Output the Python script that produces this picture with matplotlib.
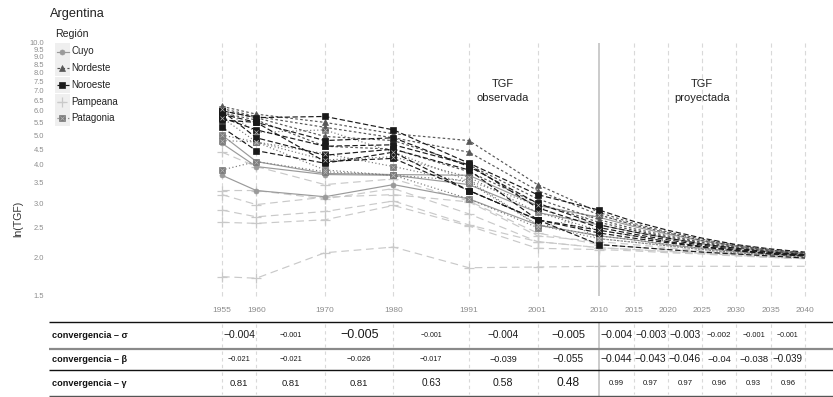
import matplotlib
matplotlib.use("Agg")
import matplotlib.pyplot as plt
from matplotlib.lines import Line2D
from matplotlib.patches import Rectangle
from matplotlib.ticker import FixedLocator, FixedFormatter, NullLocator

plt.rcParams['font.family'] = ['Liberation Sans', 'DejaVu Sans']

# ---------------- data ----------------
years = [1955, 1960, 1970, 1980, 1991, 2001, 2010, 2015, 2020, 2025, 2030, 2035, 2040]
year_labels = [str(y) for y in years]
n_obs = 7  # observed up to 2010

region_names = ["Cuyo", "Nordeste", "Noroeste", "Pampeana", "Patagonia"]

cuyo = {
    "San Luis": [5.0, 4.1, 3.75, 3.72, 3.7, 2.95, 2.7, 2.52, 2.38, 2.26, 2.17, 2.10, 2.06],
    "San Juan": [4.7, 3.95, 3.72, 3.7, 3.45, 2.8, 2.55, 2.42, 2.31, 2.21, 2.14, 2.08, 2.04],
    "Mendoza": [3.7, 3.3, 3.15, 3.45, 3.1, 2.55, 2.35, 2.28, 2.20, 2.14, 2.09, 2.05, 2.02],
}
nordeste = {
    "Misiones": [6.2, 5.85, 5.5, 5.05, 4.8, 3.45, 2.8, 2.58, 2.42, 2.29, 2.19, 2.12, 2.07],
    "Formosa": [6.1, 5.75, 5.3, 4.9, 4.4, 3.3, 2.75, 2.55, 2.40, 2.27, 2.18, 2.11, 2.06],
    "Chaco": [6.0, 5.7, 4.95, 4.8, 4.0, 3.1, 2.65, 2.48, 2.35, 2.24, 2.16, 2.10, 2.05],
    "Corrientes": [5.9, 5.6, 4.6, 4.5, 3.8, 3.0, 2.6, 2.45, 2.33, 2.23, 2.15, 2.09, 2.05],
}
noroeste = {
    "Santiago del Estero": [6.0, 5.7, 5.75, 5.2, 4.05, 3.2, 2.85, 2.62, 2.45, 2.31, 2.20, 2.13, 2.08],
    "Jujuy": [5.85, 5.5, 4.8, 4.9, 3.95, 3.0, 2.55, 2.42, 2.31, 2.21, 2.14, 2.08, 2.04],
    "Salta": [5.7, 5.2, 4.6, 4.65, 4.0, 2.9, 2.5, 2.38, 2.28, 2.19, 2.12, 2.07, 2.03],
    "Catamarca": [6.0, 4.9, 4.3, 4.5, 3.85, 2.65, 2.4, 2.31, 2.23, 2.16, 2.10, 2.05, 2.02],
    "La Rioja": [5.6, 5.5, 4.1, 4.2, 3.3, 2.65, 2.45, 2.35, 2.25, 2.17, 2.11, 2.06, 2.03],
    "Tucumán": [5.3, 4.45, 4.05, 4.4, 3.3, 2.65, 2.2, 2.16, 2.12, 2.08, 2.05, 2.02, 1.99],
}
pampeana = {
    "Córdoba": [4.4, 3.95, 3.45, 3.6, 3.05, 2.4, 2.2, 2.16, 2.12, 2.08, 2.05, 2.02, 1.99],
    "Santa Fe": [3.3, 3.3, 3.1, 3.35, 2.77, 2.25, 2.15, 2.12, 2.09, 2.06, 2.03, 2.00, 1.98],
    "Entre Ríos": [3.2, 2.97, 3.14, 3.2, 3.03, 2.35, 2.25, 2.20, 2.15, 2.10, 2.06, 2.03, 2.00],
    "La Pampa": [2.85, 2.71, 2.82, 3.05, 2.55, 2.25, 2.15, 2.12, 2.09, 2.06, 2.03, 2.00, 1.98],
    "Buenos Aires": [2.6, 2.58, 2.65, 2.95, 2.53, 2.14, 2.12, 2.10, 2.07, 2.05, 2.02, 2.00, 1.98],
    "CABA": [1.73, 1.71, 2.07, 2.16, 1.85, 1.86, 1.87, 1.87, 1.87, 1.87, 1.87, 1.87, 1.87],
}
patagonia = {
    "Neuquén": [6.1, 5.1, 5.2, 4.4, 3.55, 2.55, 2.35, 2.28, 2.20, 2.14, 2.09, 2.05, 2.02],
    "Río Negro": [5.0, 4.75, 4.35, 3.95, 3.5, 2.55, 2.3, 2.24, 2.18, 2.12, 2.07, 2.04, 2.01],
    "Chubut": [4.8, 4.75, 4.15, 4.25, 3.65, 2.8, 2.45, 2.35, 2.25, 2.17, 2.11, 2.06, 2.03],
    "Santa Cruz": [3.85, 4.1, 3.8, 3.7, 3.1, 2.5, 2.75, 2.55, 2.40, 2.27, 2.18, 2.11, 2.06],
    "Tierra del Fuego": [5.7, 4.75, 3.85, 3.7, 3.55, 2.95, 2.3, 2.24, 2.18, 2.12, 2.07, 2.04, 2.01],
}
region_data = {"Cuyo": cuyo, "Nordeste": nordeste, "Noroeste": noroeste,
               "Pampeana": pampeana, "Patagonia": patagonia}

y_ticks = [1.5, 2.0, 2.5, 3.0, 3.5, 4.0, 4.5, 5.0, 5.5, 6.0, 6.5, 7.0, 7.5, 8.0, 8.5, 9.0, 9.5, 10.0]
y_tick_labels = [f"{t:.1f}" for t in y_ticks]

row_labels = ["convergencia – σ", "convergencia – β", "convergencia – γ"]
sigma_vals = [-0.004, -0.001, -0.005, -0.001, -0.004, -0.005, -0.004, -0.003, -0.003, -0.002, -0.001, -0.001]
beta_vals = [-0.021, -0.021, -0.026, -0.017, -0.039, -0.055, -0.044, -0.043, -0.046, -0.04, -0.038, -0.039]
gamma_vals = [0.81, 0.81, 0.81, 0.63, 0.58, 0.48, 0.99, 0.97, 0.97, 0.96, 0.93, 0.96]

# ---------------- styles ----------------
sigma_sizes = [7.5, 5.2, 9.0, 5.0, 7.2, 8.0, 7.6, 7.3, 7.3, 5.8, 5.3, 5.0]
beta_sizes = [5.3, 5.3, 5.8, 5.2, 6.5, 7.2, 7.4, 7.4, 7.6, 6.8, 6.8, 7.0]
gamma_sizes = [6.8, 6.8, 6.8, 7.2, 7.6, 8.6, 5.6, 5.6, 5.6, 5.6, 5.6, 5.6]

styles = {
    "Cuyo": dict(color="#9a9a9a", ls="-", marker="o", ms=3.6),
    "Nordeste": dict(color="#575757", ls=(0, (2.2, 2.0)), marker="^", ms=4.2),
    "Noroeste": dict(color="#1a1a1a", ls=(0, (4.5, 2.2)), marker="s", ms=4.6),
    "Pampeana": dict(color="#c9c9c9", ls=(0, (6.5, 4.0)), marker="+", ms=6.5),
    "Patagonia": dict(color="#7a7a7a", ls=(0, (1.0, 2.0)), marker="s", ms=4.6),
}
draw_order = ["Pampeana", "Cuyo", "Patagonia", "Nordeste", "Noroeste"]

W, H = 833, 397
def fx(p): return p / W
def fy(p): return 1 - p / H

px_1955, px_per_year = 222.0, 6.859
def yr_at(px): return 1955 + (px - px_1955) / px_per_year

fig = plt.figure(figsize=(W / 100, H / 100), dpi=100)
fig.patch.set_facecolor("white")

# ---------------- main panel ----------------
left_px, right_px, top_px, bot_px = 48, 833, 33, 305
ax = fig.add_axes([fx(left_px), fy(bot_px), (right_px - left_px) / W, (bot_px - top_px) / H])
ax.set_yscale("log")
ax.set_xlim(yr_at(left_px), yr_at(right_px))
ax.set_ylim(1.399, 10.75)
for s in ax.spines.values():
    s.set_visible(False)
ax.yaxis.set_major_locator(FixedLocator(y_ticks))
ax.yaxis.set_major_formatter(FixedFormatter(y_tick_labels))
ax.yaxis.set_minor_locator(NullLocator())
ax.set_xticks(years)
ax.set_xticklabels(year_labels)
ax.tick_params(axis="both", length=0, labelcolor="#8c8c8c")
ax.tick_params(axis="y", pad=3, labelsize=5.4)
ax.tick_params(axis="x", pad=1.5, labelsize=6.0)
ax.patch.set_alpha(0)

for yr in years:
    if yr == 2010:
        ax.vlines(yr, 1.5, 10.0, color="#bdbdbd", lw=1.1, zorder=1)
    else:
        ax.vlines(yr, 1.5, 10.0, color="#d9d9d9", lw=0.8, linestyles=(0, (4, 3)), zorder=1)

for reg in draw_order:
    st = styles[reg]
    for prov, vals in region_data[reg].items():
        ax.plot(years, vals, color=st["color"], ls=st["ls"], lw=0.85,
                marker=st["marker"], ms=st["ms"], mfc=st["color"], mec=st["color"],
                mew=0.9 if st["marker"] == "+" else 0.5,
                markevery=list(range(n_obs)), zorder=3)
        if reg == "Patagonia":
            ax.plot(years[:n_obs], vals[:n_obs], ls="none", marker="x", ms=2.4,
                    mew=0.5, color="#b4b4b4", zorder=3.5)

fig.text(fx(503), fy(91), "TGF\nobservada", ha="center", va="center", size=8,
         color="#222222", linespacing=1.45)
fig.text(fx(702), fy(91), "TGF\nproyectada", ha="center", va="center", size=8,
         color="#222222", linespacing=1.45)

fig.text(fx(50), fy(14), "Argentina", ha="left", va="center", size=9.2, color="#222222")
fig.text(fx(18), fy(219), "ln(TGF)", ha="center", va="center", rotation=90, size=7.6,
         color="#333333")

# ---------------- legend ----------------
fig.text(fx(55), fy(34), "Región", ha="left", va="center", size=7.6, color="#222222")
for i, reg in enumerate(region_names):
    st = styles[reg]
    yc = 51.5 + i * 16.7
    fig.add_artist(Rectangle((fx(55), fy(yc + 8)), 15 / W, 16 / H, transform=fig.transFigure,
                             facecolor="#efefef", edgecolor="none"))
    fig.add_artist(Line2D([fx(56.5), fx(68.5)], [fy(yc), fy(yc)], transform=fig.transFigure,
                          color=st["color"], ls=st["ls"], lw=0.85))
    fig.add_artist(Line2D([fx(62.5)], [fy(yc)], transform=fig.transFigure, ls="none",
                          marker=st["marker"], ms=st["ms"], color=st["color"],
                          mew=0.9 if st["marker"] == "+" else 0.5))
    if reg == "Patagonia":
        fig.add_artist(Line2D([fx(62.5)], [fy(yc)], transform=fig.transFigure, ls="none",
                              marker="x", ms=2.4, mew=0.5, color="#b4b4b4"))
    fig.text(fx(71.5), fy(yc), reg, ha="left", va="center", size=7.0, color="#222222")

# ---------------- table ----------------
t_top, t_bot = 315, 397
tax = fig.add_axes([fx(left_px), fy(t_bot), (right_px - left_px) / W, (t_bot - t_top) / H])
tax.set_xlim(yr_at(left_px), yr_at(right_px))
tax.set_ylim(t_bot, t_top)
tax.axis("off")

row_lines = [322, 349, 370, 396]
line_styles = [("#111111", 1.0), ("#8a8a8a", 1.6), ("#111111", 1.0), ("#555555", 1.0)]
for yl, (c, lw) in zip(row_lines, line_styles):
    tax.hlines(yl, yr_at(49), yr_at(833), color=c, lw=lw, zorder=2)

for r in range(3):
    top, bot = row_lines[r], row_lines[r + 1]
    for yr in years:
        if yr == 2010:
            continue
        tax.vlines(yr, top + 2, bot - 2, color="#d9d9d9", lw=0.8, linestyles=(0, (3, 3)), zorder=1)
tax.vlines(2010, row_lines[0], row_lines[-1], color="#bdbdbd", lw=1.1, zorder=1)

mids = [(years[i] + years[i + 1]) / 2 for i in range(len(years) - 1)]
row_centers = [335.5, 359.5, 383.5]
table_rows = [(sigma_vals, sigma_sizes), (beta_vals, beta_sizes), (gamma_vals, gamma_sizes)]
for r, ((vals, sizes), yc) in enumerate(zip(table_rows, row_centers)):
    tax.text(yr_at(52), yc, row_labels[r], ha="left", va="center", size=6.6,
             fontweight="bold", color="#111111")
    for m, v, sz in zip(mids, vals, sizes):
        lab = f"{v:g}".replace("-", "\u2212")
        tax.text(m, yc, lab, ha="center", va="center", size=sz, color="#1a1a1a")

fig.savefig("out.png", dpi=100)
